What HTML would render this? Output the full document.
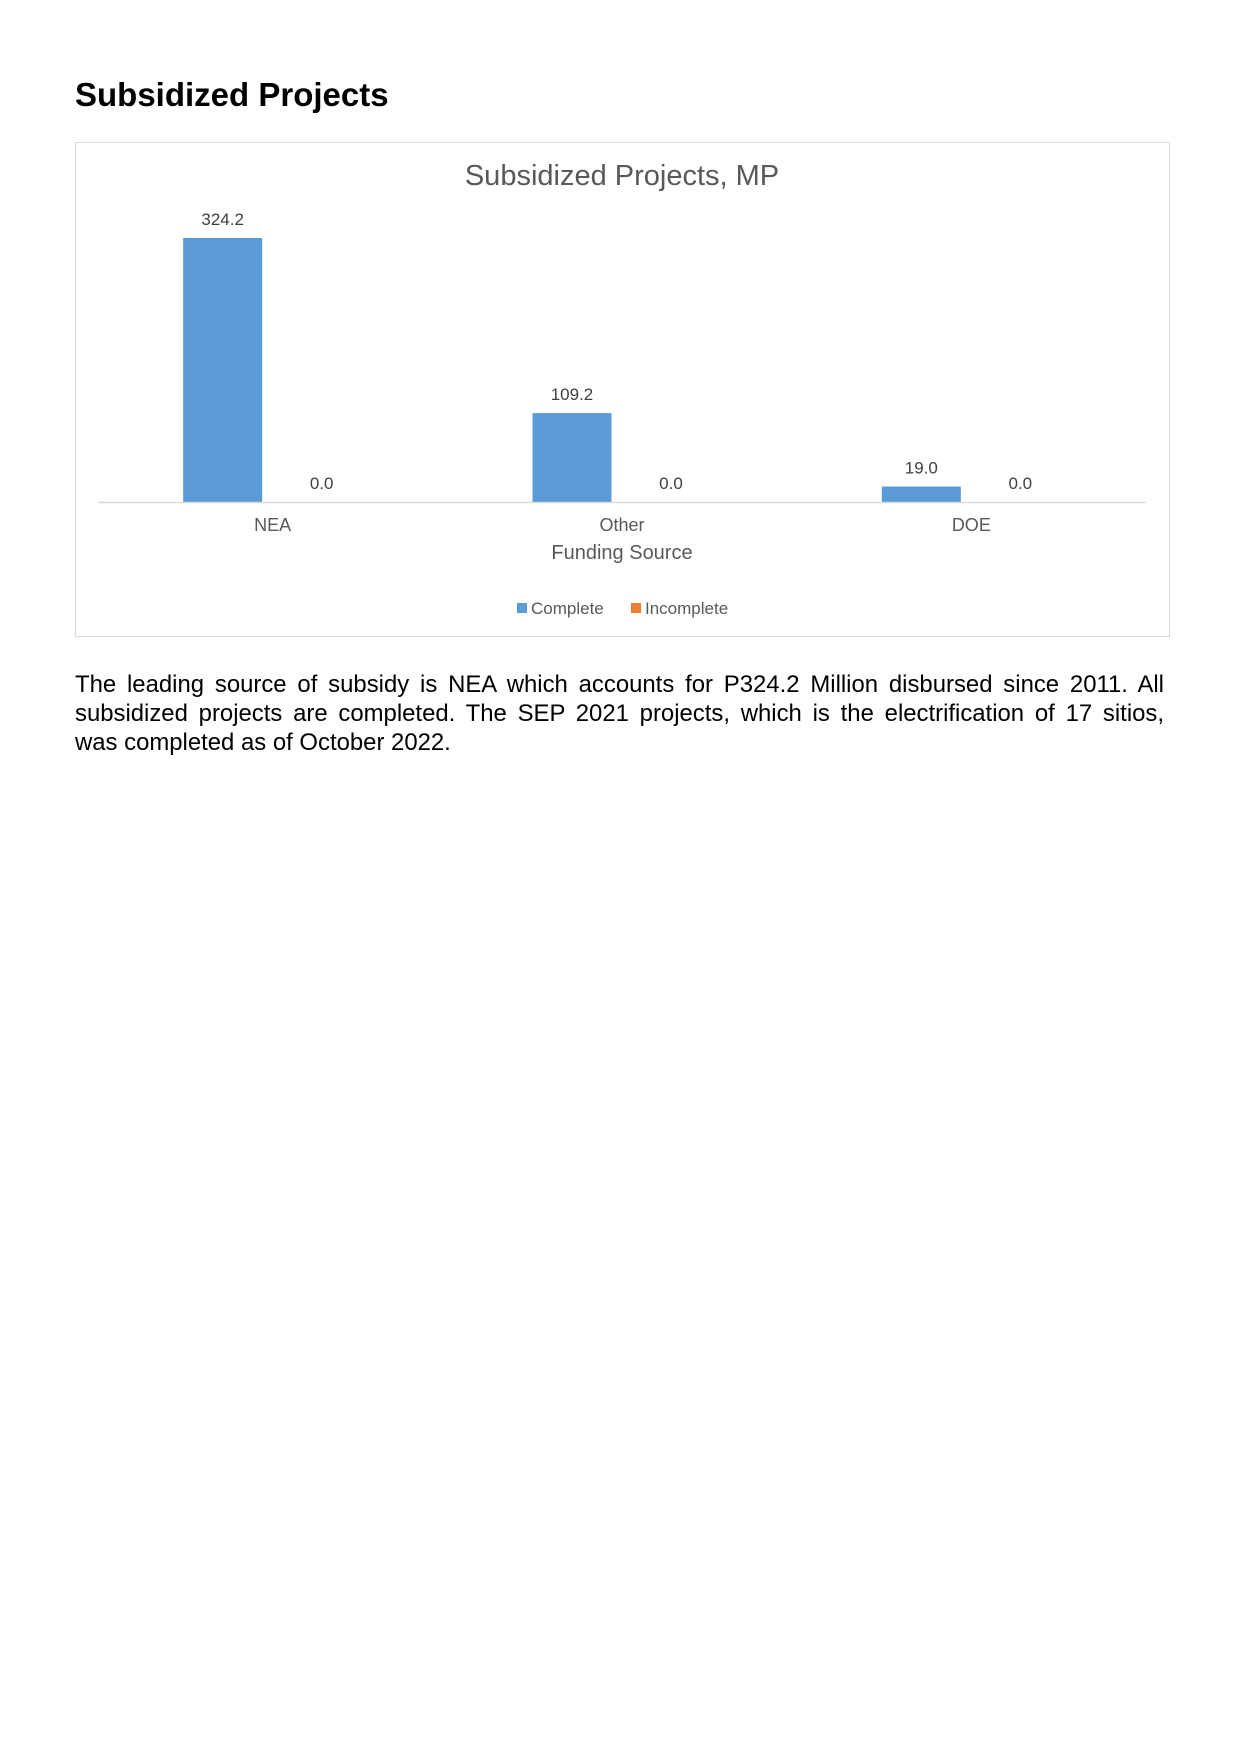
<!DOCTYPE html>
<html><head><meta charset="utf-8"><style>
body{margin:0;width:1241px;height:1755px;background:#fff;font-family:"Liberation Sans",sans-serif;position:relative}
h1{position:absolute;left:75px;top:76px;margin:0;font-size:33px;font-weight:bold;color:#000}
#box{position:absolute;left:75px;top:142px;width:1093px;height:493px;border:1px solid #d9d9d9}
p{position:absolute;left:75px;top:670px;width:1089px;margin:0;font-size:23.9px;line-height:29px;text-align:justify;color:#000}
</style></head><body>
<h1>Subsidized Projects</h1>
<div id="box"></div>
<svg id="chart" width="1241" height="700" style="position:absolute;left:0;top:0" font-family="Liberation Sans, sans-serif"></svg>
<p>The leading source of subsidy is NEA which accounts for P324.2 Million disbursed since 2011. All subsidized projects are completed. The SEP 2021 projects, which is the electrification of 17 sitios, was&nbsp;completed as of October 2022.</p>
<script>
const categories=["NEA","Other","DOE"];
const complete=[324.2,109.2,19.0];
const incomplete=[0.0,0.0,0.0];
const seriesNames=["Complete","Incomplete"];
const svg=document.getElementById('chart');
const NS='http://www.w3.org/2000/svg';
const base=502,scale=264/324.2,left=98,right=1146,groupW=(right-left)/categories.length,barW=79;
const y=v=>base-v*scale;
const xc=i=>left+groupW*(i+0.5);
function mk(t,a,txt){const e=document.createElementNS(NS,t);for(const k in a)e.setAttribute(k,a[k]);if(txt!=null)e.textContent=txt;svg.appendChild(e);return e;}
let t=mk('text',{x:622,y:185,'text-anchor':'middle','font-size':29,fill:'#595959'},'Subsidized Projects, MP');


const colors=['#5b9bd5','#ed7d31'];
[complete,incomplete].forEach((s,si)=>{
 s.forEach((v,i)=>{
  const cx=xc(i)+(si===0?-50:49);
  const r=mk('rect',{x:cx-barW/2,y:y(v),width:barW,height:base-y(v),fill:colors[si]});
  
  
  const l=mk('text',{x:cx,y:y(v)-13,'text-anchor':'middle','font-size':17,fill:'#404040'},v.toFixed(1));
  
  
 });
});
let ax=mk('line',{x1:left,x2:right,y1:base+0.5,y2:base+0.5,stroke:'#d9d9d9','stroke-width':1.5});


categories.forEach((c,i)=>{
 const e=mk('text',{x:xc(i),y:531,'text-anchor':'middle','font-size':18,fill:'#595959'},c);
 
 
});
t=mk('text',{x:622,y:559,'text-anchor':'middle','font-size':20,fill:'#595959'},'Funding Source');


const lx=[517,631];
seriesNames.forEach((n,i)=>{
 const g=document.createElementNS(NS,'g');svg.appendChild(g);
 
 
 const r=document.createElementNS(NS,'rect');r.setAttribute('x',lx[i]);r.setAttribute('y',603);r.setAttribute('width',10);r.setAttribute('height',10);r.setAttribute('fill',colors[i]);g.appendChild(r);
 const tx=document.createElementNS(NS,'text');tx.setAttribute('x',lx[i]+14);tx.setAttribute('y',614);tx.setAttribute('font-size',17);tx.setAttribute('fill','#595959');tx.textContent=n;g.appendChild(tx);
});
</script>
</body></html>
